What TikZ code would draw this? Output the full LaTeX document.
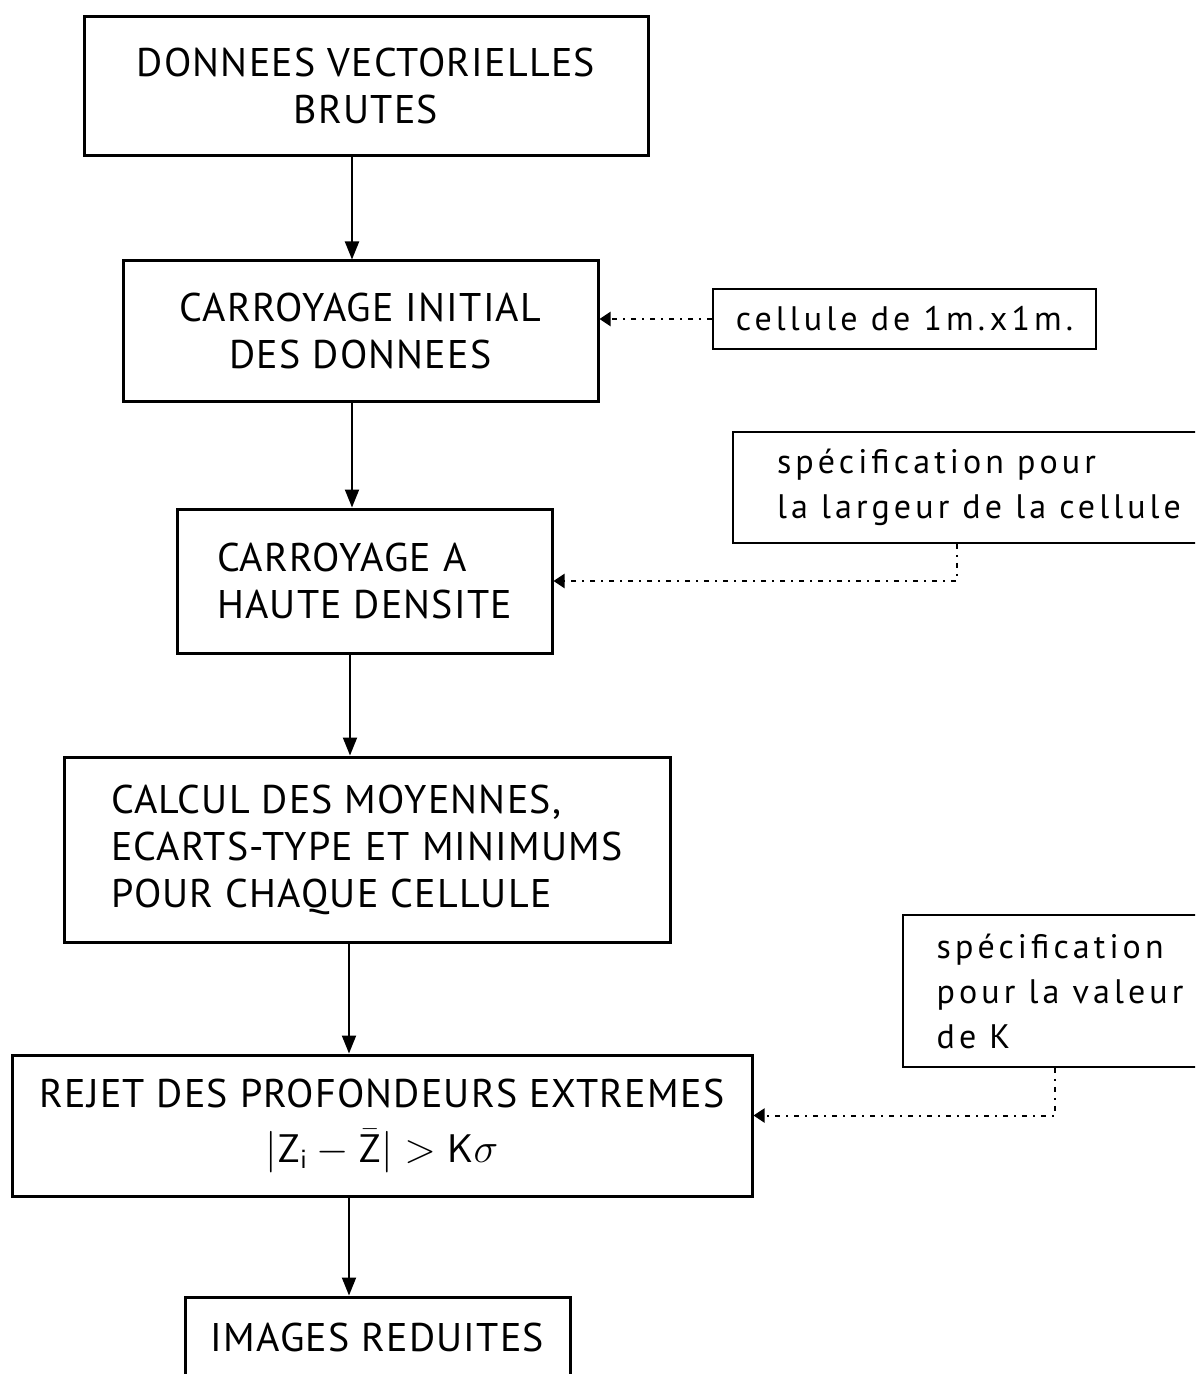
\documentclass[tikz,border=0pt]{standalone}
\usepackage{fontspec}
\setmainfont{PT Sans}
\usepackage{tikz}
\usetikzlibrary{arrows.meta}

\begin{document}
\begin{tikzpicture}[x=0.5pt,y=-0.5pt,
  mainbox/.style={draw, line width=1.5pt, rectangle, inner sep=0pt,
    font=\fontsize{20}{23.5}\selectfont\addfontfeatures{LetterSpace=3}},
  sidebox/.style={draw, line width=0.9pt, rectangle, inner sep=0pt,
    font=\fontsize{17}{22.5}\selectfont\addfontfeatures{LetterSpace=12}},
  flow/.style={line width=1pt, -{Triangle[width=7pt,length=9pt]}},
  hint/.style={line width=1pt, dash pattern=on 2.5pt off 3pt on 1pt off 3pt,
    -{Triangle[width=7pt,length=5.5pt]}}]
\useasboundingbox (0,0) rectangle (1195,1374);
\clip (0,0) rectangle (1195,1374);
%%% Draws main chain
% draws boxes
\node[mainbox, minimum width=282pt, minimum height=69.5pt, align=center] (data) at (366,86.5)
  {DONNEES VECTORIELLES\\BRUTES};
\node[mainbox, minimum width=237.5pt, minimum height=70pt, align=center] (initial) at (360.5,331)
  {CARROYAGE INITIAL\\DES DONNEES};
\node[mainbox, minimum width=187.5pt, minimum height=72pt, align=left] (dense) at (364.5,581)
  {CARROYAGE A\\HAUTE DENSITE};
\node[mainbox, minimum width=303pt, minimum height=92.5pt, align=left] (stats) at (367,849.5)
  {CALCUL DES MOYENNES,\\ECARTS-TYPE ET MINIMUMS\\POUR CHAQUE CELLULE};
\node[mainbox, minimum width=370pt, minimum height=70.5pt, align=center] (reject) at (382,1125.5)
  {REJET DES PROFONDEURS EXTREMES\\[4pt]$|\mathsf{Z}_{\mathsf{i}} - \bar{\mathsf{Z}}| > \mathsf{K}\sigma$};
\node[mainbox, minimum width=192.5pt, minimum height=40pt, align=center] (images) at (377.5,1337)
  {IMAGES REDUITES};
% draws arrows
\draw[flow] ([xshift=-7pt]data.south) -- ([xshift=-7pt]data.south |- initial.north);
\draw[flow] ([xshift=-4.25pt]initial.south) -- ([xshift=-4.25pt]initial.south |- dense.north);
\draw[flow] ([xshift=-7.25pt]dense.south) -- ([xshift=-7.25pt]dense.south |- stats.north);
\draw[flow] ([xshift=-9pt]stats.south) -- ([xshift=-9pt]stats.south |- reject.north);
\draw[flow] ([xshift=-16.5pt]reject.south) -- ([xshift=-16.5pt]reject.south |- images.north);
%%% Draws parameters
% draws boxes
\node[sidebox, minimum width=191.5pt, minimum height=30pt] (cell) at (904.5,319)
  {cellule de 1m.x1m.};
\node[sidebox, minimum width=246pt, minimum height=55.5pt, align=left] (width) at (979,487.5)
  {spécification pour\\la largeur de la cellule};
\node[sidebox, minimum width=157pt, minimum height=76pt, align=left] (kval) at (1060,991)
  {spécification\\pour la valeur\\de K};
% draws dotted links
\draw[hint] (cell.west) -- (cell.west -| initial.east);
\draw[hint] ([xshift=-11pt]width.south) |- (dense.east);
\draw[hint] ([xshift=-2.5pt]kval.south) |- ([yshift=5pt]reject.east);
\end{tikzpicture}
\end{document}
